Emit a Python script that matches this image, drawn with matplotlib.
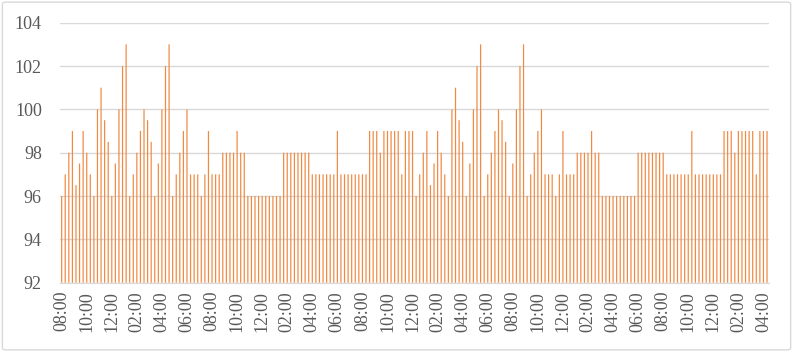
import matplotlib
matplotlib.use("Agg")
import matplotlib.pyplot as plt
from matplotlib.patches import FancyBboxPatch

# readings, one bar per sample (two days of samples)
day1 = [96, 97, 98, 99, 96.5, 97.5, 99, 98, 97, 96,
        100, 101, 99.5, 98.5, 96, 97.5, 100, 102, 103, 96,
        97, 98, 99, 100, 99.5, 98.5, 96, 97.5, 100, 102,
        103, 96, 97, 98, 99, 100, 97, 97, 97, 96,
        97, 99, 97, 97, 97, 98, 98, 98, 98, 99,
        98, 98, 96, 96, 96, 96, 96, 96, 96, 96,
        96, 96, 98, 98, 98, 98, 98, 98, 98, 98,
        97, 97, 97, 97, 97, 97, 97, 99, 97, 97,
        97, 97, 97, 97, 97, 97, 99, 99, 99, 98,
        99, 99, 99, 99, 99, 97, 99, 99, 99]
day2 = [96, 97, 98, 99, 96.5, 97.5, 99, 98, 97, 96,
        100, 101, 99.5, 98.5, 96, 97.5, 100, 102, 103, 96,
        97, 98, 99, 100, 99.5, 98.5, 96, 97.5, 100, 102,
        103, 96, 97, 98, 99, 100, 97, 97, 97, 96,
        97, 99, 97, 97, 97, 98, 98, 98, 98, 99,
        98, 98, 96, 96, 96, 96, 96, 96, 96, 96,
        96, 96, 98, 98, 98, 98, 98, 98, 98, 98,
        97, 97, 97, 97, 97, 97, 97, 99, 97, 97,
        97, 97, 97, 97, 97, 97, 99, 99, 99, 98,
        99, 99, 99, 99, 99, 97, 99, 99, 99]
values = day1 + day2

tick_labels = ["08:00", "10:00", "12:00", "02:00", "04:00", "06:00",
               "08:00", "10:00", "12:00", "02:00", "04:00", "06:00",
               "08:00", "10:00", "12:00", "02:00", "04:00", "06:00",
               "08:00", "10:00", "12:00", "02:00", "04:00", "06:00",
               "08:00", "10:00", "12:00", "02:00", "04:00"]
label_step = 7

FONT = ["Liberation Serif", "DejaVu Serif"]
TXT = "#595959"

fig = plt.figure(figsize=(7.93, 3.52), dpi=100)
ax = fig.add_axes([0.0755, 0.197, 0.894, 0.7385])

x = list(range(len(values)))
ax.bar(x, [v - 92 for v in values], bottom=92, width=0.34,
       color="#F08A43", linewidth=0, zorder=3, snap=False)

ax.set_ylim(92, 104)
ax.set_xlim(-0.5, len(values) - 0.5)
ax.set_yticks(range(92, 105, 2))
ax.set_yticklabels([str(t) for t in range(92, 105, 2)], fontsize=13,
                   color=TXT, family=FONT)
ax.set_xticks(x[::label_step])
ax.set_xticklabels(tick_labels, rotation=90, fontsize=13, color=TXT,
                   family=FONT)
ax.tick_params(axis="y", length=0, pad=13)
ax.tick_params(axis="x", length=0, pad=6)

ax.grid(axis="y", color="#D9D9D9", linewidth=1, zorder=0)
for s in ["top", "right", "left"]:
    ax.spines[s].set_visible(False)
ax.spines["bottom"].set_color("#D9D9D9")

# chart area border
fig.patches.append(FancyBboxPatch((0.003, 0.006), 0.994, 0.988,
                                  boxstyle="round,pad=0,rounding_size=0.005",
                                  transform=fig.transFigure, fill=False,
                                  edgecolor="#D9D9D9", linewidth=1))

fig.savefig("out.png", dpi=100)
